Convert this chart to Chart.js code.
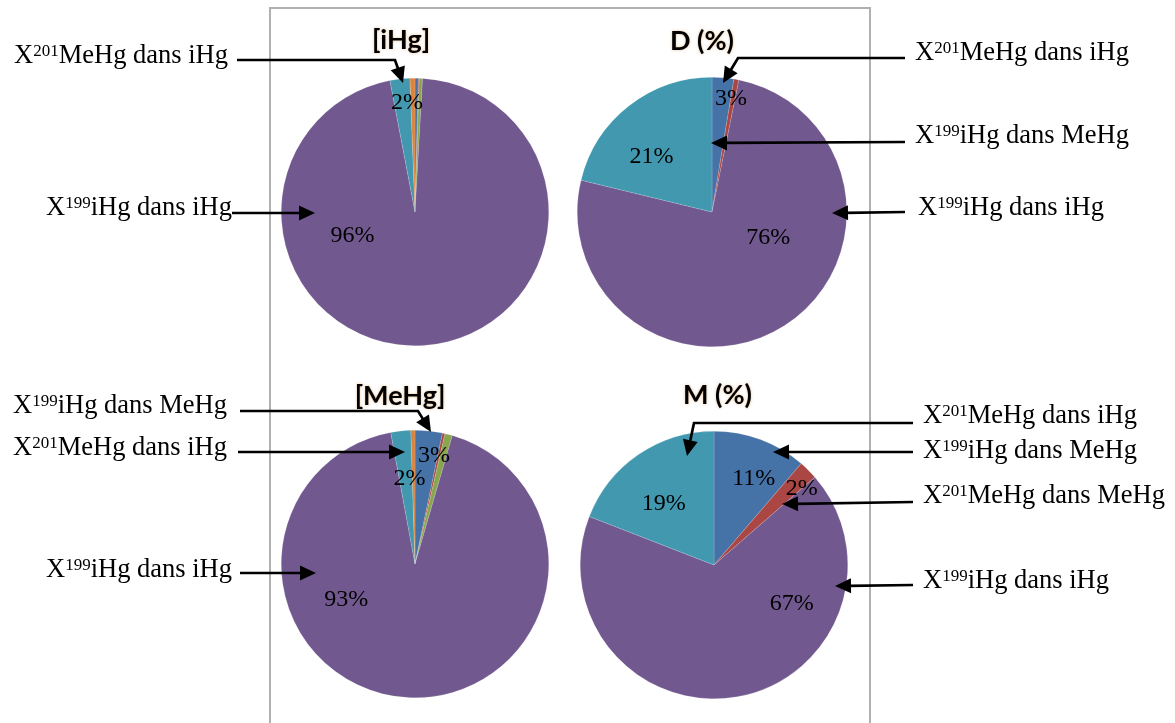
<!DOCTYPE html>
<html><head><meta charset="utf-8">
<script src="https://cdn.jsdelivr.net/npm/chart.js@4.4.0/dist/chart.umd.min.js"></script>
<style>
html,body{margin:0;padding:0;background:#fff;width:1175px;height:723px;overflow:hidden;position:relative}
#box{position:absolute;left:269px;top:7px;width:602px;height:760px;border:2px solid #b0b0b0;border-bottom:none;box-sizing:border-box}
canvas.pie{position:absolute}
#overlay{position:absolute;left:0;top:0;pointer-events:none}
</style></head><body>
<div id="box"></div>
<canvas id="c1" class="pie"></canvas>
<canvas id="c2" class="pie"></canvas>
<canvas id="c3" class="pie"></canvas>
<canvas id="c4" class="pie"></canvas>
<canvas id="overlay" width="1175" height="723"></canvas>
<script>
// ---------- DATA ----------
const seriesNames = ['X199iHg dans MeHg', 'X201MeHg dans MeHg', 'Autre A', 'X199iHg dans iHg', 'X201MeHg dans iHg', 'Autre B'];
const panelTitles = ['[iHg]', 'D (%)', '[MeHg]', 'M (%)'];
const iHgShares  = [0.4, 0.1, 0.4, 96.1, 2.4, 0.6];
const DShares    = [2.6, 0.6, 0.0, 75.6, 21.2, 0.0];
const MeHgShares = [3.3, 0.3, 0.9, 92.6, 2.4, 0.5];
const MShares    = [11.3, 2.3, 0.0, 67.3, 19.1, 0.0];
// which slices carry a percentage label in each panel (series index)
const labelledIHg  = [4, 3];
const labelledD    = [0, 4, 3];
const labelledMeHg = [0, 4, 3];
const labelledM    = [0, 1, 4, 3];

// ---------- STYLE / LAYOUT ----------
const sliceColors = ['#4572A7', '#AA4643', '#89A54E', '#71588F', '#4198AF', '#DB843D'];
// label placement: [angle clockwise from 12 o'clock (deg), fraction of radius]
const placements = [
  {4: [-4.2, 0.82], 3: [-111, 0.50]},
  {0: [9.5, 0.855], 4: [-47.5, 0.61], 3: [114.9, 0.46]},
  {0: [9.9, 0.825], 4: [-3.7, 0.64], 3: [-117.4, 0.58]},
  {0: [24.7, 0.71], 1: [49, 0.87], 4: [-39.6, 0.59], 3: [116.6, 0.65]}
];
const panels = [
  {id:'c1', title:panelTitles[0], values:iHgShares,  labelled:labelledIHg,  cx:415,   cy:212, R:134, tdx:-14,  ty:40},
  {id:'c2', title:panelTitles[1], values:DShares,    labelled:labelledD,    cx:712,   cy:212, R:135, tdx:-10,  ty:41},
  {id:'c3', title:panelTitles[2], values:MeHgShares, labelled:labelledMeHg, cx:414.5, cy:564, R:134, tdx:-15,  ty:396},
  {id:'c4', title:panelTitles[3], values:MShares,    labelled:labelledM,    cx:714,   cy:565, R:134, tdx:3.5,  ty:395}
];

const panelDecor = {
  id: 'panelDecor',
  afterDatasetsDraw(chart, args, opts) {
    const ctx = chart.ctx;
    const meta = chart.getDatasetMeta(0);
    const values = chart.data.datasets[0].data;
    const total = values.reduce((a, b) => a + b, 0);
    ctx.save();
    ctx.fillStyle = '#000';
    ctx.font = '24px "Liberation Serif", "Times New Roman", serif';
    ctx.textAlign = 'center';
    ctx.textBaseline = 'middle';
    opts.labelled.forEach(i => {
      const arc = meta.data[i];
      const p = opts.place[i];
      const a = p[0] * Math.PI / 180;
      const r = p[1] * arc.outerRadius;
      const x = arc.x + r * Math.sin(a);
      const y = arc.y - r * Math.cos(a);
      ctx.fillText(Math.round(values[i] / total * 100) + '%', x, y);
    });
    // title
    const ca = chart.chartArea;
    ctx.font = 'bold 27px Lato, "Open Sans", sans-serif';
    ctx.shadowColor = 'rgba(214,140,60,0.55)';
    ctx.shadowBlur = 3;
    ctx.fillText(opts.title, (ca.left + ca.right) / 2 + opts.tdx, opts.ty);
    ctx.restore();
  }
};

panels.forEach((p, k) => {
  const cv = document.getElementById(p.id);
  const top0 = p.ty - 25;
  const W = 2 * p.R + 40;
  const H = Math.round(p.cy + p.R + 4 - top0);
  cv.width = W; cv.height = H;
  cv.style.width = W + 'px'; cv.style.height = H + 'px';
  cv.style.left = (p.cx - p.R - 20) + 'px';
  cv.style.top = top0 + 'px';
  new Chart(cv, {
    type: 'pie',
    data: {
      labels: seriesNames,
      datasets: [{
        data: p.values,
        backgroundColor: sliceColors,
        borderColor: 'rgba(255,255,255,0.3)',
        borderWidth: 0.5
      }]
    },
    options: {
      responsive: false,
      animation: false,
      devicePixelRatio: 1,
      layout: {padding: {top: H - 4 - 2 * p.R, bottom: 4, left: 20, right: 20}},
      plugins: {
        legend: {display: false},
        tooltip: {enabled: false},
        title: {display: false},
        panelDecor: {labelled: p.labelled, place: placements[k], title: p.title, tdx: p.tdx, ty: 25}
      }
    },
    plugins: [panelDecor]
  });
});

// ---------- ANNOTATIONS (text + arrows) ----------
const annotations = [
  {sup:'201', a:'MeHg dans iHg', x:228, y:63, align:'right', path:[[237,60],[395,60],[403,83]]},
  {sup:'199', a:'iHg dans iHg',  x:232, y:215, align:'right', path:[[232,213],[315,213]]},
  {sup:'201', a:'MeHg dans iHg', x:915, y:60, align:'left', path:[[905,58],[738,58],[723,83]]},
  {sup:'199', a:'iHg dans MeHg', x:915, y:143, align:'left', path:[[905,142],[711,143]]},
  {sup:'199', a:'iHg dans iHg',  x:918, y:215, align:'left', path:[[905,212],[832,213]]},
  {sup:'199', a:'iHg dans MeHg', x:227, y:413, align:'right', path:[[240,411],[418,411],[431,432]]},
  {sup:'201', a:'MeHg dans iHg', x:227, y:455, align:'right', path:[[238,452],[405,452]]},
  {sup:'199', a:'iHg dans iHg',  x:232, y:577, align:'right', path:[[240,573],[316,573]]},
  {sup:'201', a:'MeHg dans iHg', x:923, y:423, align:'left', path:[[913,423],[694,423],[687,456]]},
  {sup:'199', a:'iHg dans MeHg', x:923, y:458, align:'left', path:[[913,452],[773,452]]},
  {sup:'201', a:'MeHg dans MeHg',x:923, y:503, align:'left', path:[[913,502],[782,504]]},
  {sup:'199', a:'iHg dans iHg',  x:923, y:588, align:'left', path:[[913,585],[835,586]]}
];
const MAIN = '26.5px "Liberation Serif", "Times New Roman", serif';
const SUP = '17px "Liberation Serif", "Times New Roman", serif';
function drawAnnotations() {
  const ctx = document.getElementById('overlay').getContext('2d');
  ctx.fillStyle = '#000'; ctx.strokeStyle = '#000';
  ctx.textBaseline = 'alphabetic'; ctx.textAlign = 'left';
  annotations.forEach(an => {
    ctx.font = MAIN; const wX = ctx.measureText('X').width; const wA = ctx.measureText(an.a).width;
    ctx.font = SUP; const wS = ctx.measureText(an.sup).width;
    const total = wX + wS + wA;
    let x = an.align === 'right' ? an.x - total : an.x;
    ctx.font = MAIN; ctx.fillText('X', x, an.y); x += wX;
    ctx.font = SUP; ctx.fillText(an.sup, x, an.y - 7.5); x += wS;
    ctx.font = MAIN; ctx.fillText(an.a, x, an.y);
    // arrow
    const pts = an.path;
    const n = pts.length;
    const tip = pts[n - 1], prev = pts[n - 2];
    const dx = tip[0] - prev[0], dy = tip[1] - prev[1];
    const len = Math.hypot(dx, dy), ux = dx / len, uy = dy / len;
    const hl = 16, hw = 7.5;
    const bx = tip[0] - ux * hl, by = tip[1] - uy * hl;
    ctx.lineWidth = 2.7; ctx.lineJoin = 'miter';
    ctx.beginPath();
    ctx.moveTo(pts[0][0], pts[0][1]);
    for (let i = 1; i < n - 1; i++) ctx.lineTo(pts[i][0], pts[i][1]);
    ctx.lineTo(bx + ux * 2, by + uy * 2);
    ctx.stroke();
    ctx.beginPath();
    ctx.moveTo(tip[0], tip[1]);
    ctx.lineTo(bx - uy * hw, by + ux * hw);
    ctx.lineTo(bx + uy * hw, by - ux * hw);
    ctx.closePath(); ctx.fill();
  });
}
drawAnnotations();
</script>
</body></html>
